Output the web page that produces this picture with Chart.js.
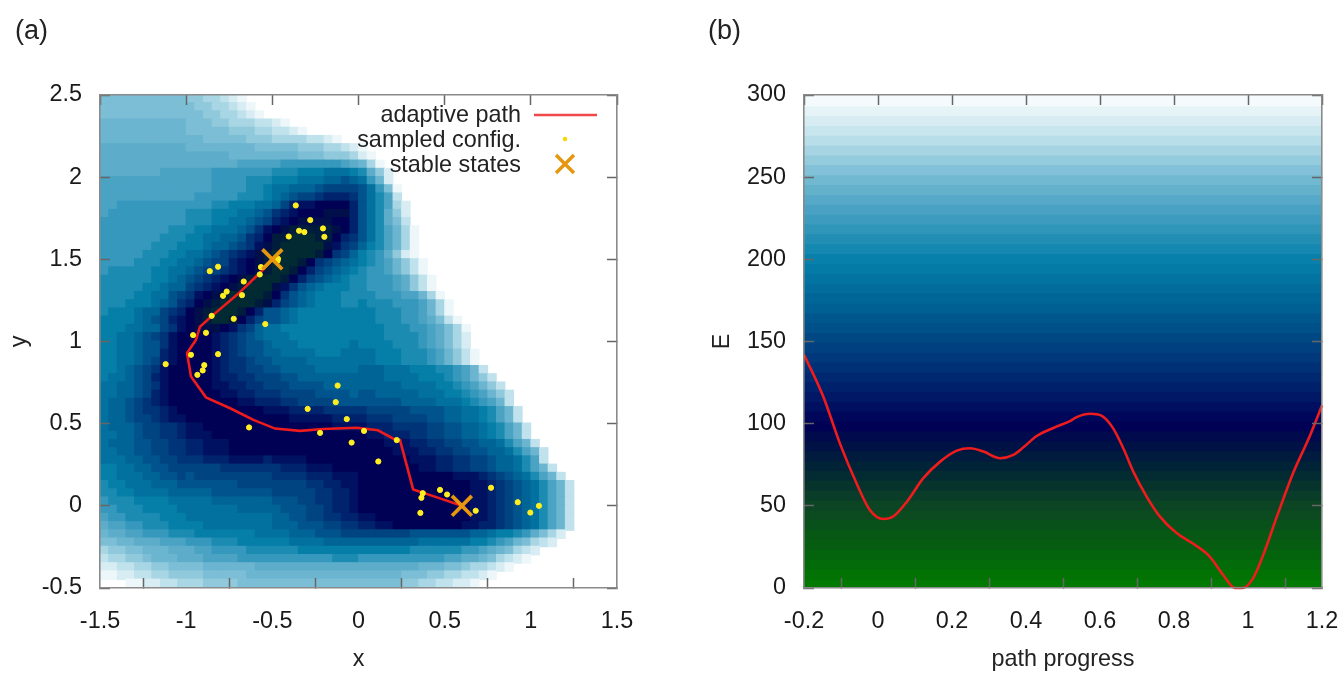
<!DOCTYPE html>
<html><head><meta charset="utf-8">
<script src="https://cdn.jsdelivr.net/npm/chart.js@4/dist/chart.umd.min.js"></script>
<style>
html,body{margin:0;padding:0;background:#fff;width:1344px;height:675px;overflow:hidden}
canvas{position:absolute;top:0}
.t{position:absolute;font-family:"Liberation Sans",Arial,sans-serif;color:#222;white-space:nowrap;line-height:26px}
</style></head><body>
<canvas id="ca" width="672" height="675" style="left:0"></canvas>
<canvas id="cb" width="672" height="675" style="left:672px"></canvas>
<div class="t" style="left:15px;top:17px;font-size:27px">(a)</div>
<div class="t" style="left:708px;top:17px;font-size:27px">(b)</div>
<div class="t" style="right:823px;top:101px;font-size:23.4px">adaptive path</div>
<div class="t" style="right:823px;top:126px;font-size:23.4px">sampled config.</div>
<div class="t" style="right:823px;top:151px;font-size:23.4px">stable states</div>
<script>
// ---- values ----
// Energy level per cell (0-9, a=10 ... t=29, .=white); top row first, 60 x 60 cells of 0.05
const energyRows = [
"oooooooooo ppqqrst",
"oooooooooo oppqqrst",
"oooooooooo ooppqqrst",
"nnnnnnnnnn oooppqqqrr st",
"nnnnnnnnnn ooooopppqq rrst",
"nnnnnnnnnn nnoooooppp qqqqrrst",
"mmmmmmmmmm nnnnnnnnoo ooopppqqrs t",
"mmmmmmmmmm mmmmmnnnnn nnnooopppq st",
"mmmmmmmmmm mmmmmmllll lkkkkkkklm nqt",
"mmmmmmmlll lllkkkkkkk jjjiiihhhi jmps",
"llllllllll lllkkkkjjj iiihhhggfg hkns",
"llllllllll lllkkkkjji hhgggfeeee fhkot",
"llllllllll lkkkkkjjji hgfeedcccd fhjlr",
"llkkkkkkkk kkkjjiiihh gecbbaaaac fhjlqs",
"lkkkkkkkkk jjjiiihhgf dcbaaa999c fhjmps",
"kkkkkkkkkk jjjiihhgfe cba9999aac fhjmor",
"kkkkkkkkjj jiihhhgfdb a9888889ac fhjlnqt",
"kkkkkkkjjj iihhggfdca 8877788acd fhjlnqt",
"kkkkkkjjji iihggfedb9 8777779bde gijlnqt",
"kkkkkjjjii hhgfedcb98 777778adeg ijkmpst",
"kkkkjjjiih hgfeecba98 7778adefgh ijklnprt",
"kjjjjjiihh gfeedcba98 778acefghi jkklnprt",
"jjjjjjiihg fedcba9877 78acefghij jkkklmprt",
"jjjjjiihgg edcba98777 9bdfghiiij jkkklmprt",
"jjjjiihhfe dba9877778 adfghiiijj jjkkkllnqt",
"jjjiiihgfd ca98777789 cefghiiijj ijjjkkklnqt",
"jiiihggedc a987778acf fghiiiiiii iijjjkklnqt",
"iiiihgfecb a98778acef fghiiiiiii iijjjkklmort",
"iiihhggedb a999abdegh hiiiiiiiii iiijjjkklmoqt",
"iihhgfedba aaabcdefgh hhiiiiiiii iiijjjjklmoqs",
"iihhgffdba aaabcdeffg hhhiiiiiih iiiijjjklmoqs",
"iihhgffcba aaabcdeffg ghhhhiiihh hhiiijjjklnprt",
"iihhgfecba aaabcddeff gggghhhhhh hhiiijjjklnprt",
"iihgfedbaa aaabcddeef fgggghhhhh ggghhhiiijjklnr",
"ihhgfecbaa aaabccddee effggggggg ggghhhhiiijklnpr",
"hhggfedbaa aaabbccdde eeffffgggg ggggghhhhiijklnpr",
"hhggfecbaa aaaabbccdd deeeeffffg ffggggghhhiijklnpr",
"hggfedcbaa aaaaaabbcc cddeeeefff fffffgggghhhijklnr",
"hggfeddcba aaaaaaaaab bbccccdddd deeeeeffffgghhijlnr",
"hggfeedcbb aaaaaaaaaa aabbbbbccc cdddeeeeffgghhijlnr",
"hgggfeeddc bbaaaaaaaa aaaaaaabbb bcccddddeeffgghijlnr",
"hhggfeeddc bbbaaaaaaa aaaaaaaaaa abbcccddeeffgghijlnr",
"hgggffeedd ccbbbaaaaa aaaaaaaaaa aaabbbccddeeffgghjlnr",
"hhggffeedd ccbbbaaaaa aaaaaaaaaa aaaabbbccddeeffgghjlnr",
"hhhggffeed ddcccbbbbc bbbbaaaaaa aaaaaabbbccddeefgghjlr",
"iihhggffee eeeedddddd dcccbbbaaa aaaaaaabbccddeefgghjlnr",
"iihhhggffe feeeeeeeee ddddcccbbb aaaaaaaaaaabbbcdefghjlnr",
"jiihhhgggf ffffffeeee eeeeddccbb aaaaaaaaaaaaabbcdefghjlnr",
"jjiihhhhgg gggfffffff eeeeeddccb aaaaaaaaaaaaabbcdefghjlnr",
"kjjjiiiihh hhhggggggg fffeeddccb aaaaaaaaaaaaabbcdefghjlnr",
"kkjjjiiiih hhhhhhgggg gfffeedccb aaaaaaaaaaaaabbcdefghjlnr",
"lkkjjjjiii hhhhhhhhhh ggffeeddcc bbaaaaaaaaaaabbcdefghjlnr",
"mllkkjjjii iihhhhhhhh gggfffeedd ccbbaaaaaaaabbccdefghjlnr",
"nmmllkkkjj jiiiiiiihh hhgggfffee eeeeeefffffffgghiijkmoqs",
"oonnmmmlll kkkjjjiiii iihhhhgggg ggggggghhhhhhiijklnoqrs",
"qppoonnnmm mllkkkkjjj jjjiiiiiii iiiiiijjjjjjkklmnoqrs",
"rqqpponnnm mmllllkkkk kkkkkkkjjj kkkkkkkkkkllmmnoqrst",
"ssrrqqppoo oonnnnnnmm mmmmmmmmmm mmmmmmmnnnoopqqrst",
"ttssrrqqpp ppooooonnn nnnnnnnnnn nnnnnoooppqqrrst",
"...ttssrrq qqppppoooo oooooooooo oooooppqqrrsst"
];
// E value that each level letter stands for (index = level)
const levelE = [0,10,20,30,40,50,60,70,80,90,100,112,125,138,150,162,175,187,198,210,222,232,240,247,253,260,268,276,285,294];
const pathX = [0.6,0.46,0.317,0.241,0.2,0.113,-0.01,-0.205,-0.339,-0.484,-0.61,-0.745,-0.885,-0.972,-0.995,-0.943,-0.92,-0.85,-0.705,-0.571,-0.5];
const pathY = [0,0.05,0.10,0.40,0.41,0.46,0.475,0.468,0.456,0.47,0.523,0.594,0.66,0.787,0.93,1.01,1.09,1.156,1.284,1.418,1.5];
const sampleX = [-0.364,-0.28,-0.206,-0.198,-0.345,-0.314,-0.405,-0.467,-0.47,-0.566,-0.573,-0.666,-0.815,-0.863,-0.765,-0.786,-0.676,-0.852,-0.724,-0.541,-0.885,-0.96,-0.972,-0.815,-1.119,-0.895,-0.904,-0.935,-0.121,-0.132,-0.295,-0.068,-0.635,-0.223,-0.04,0.032,0.222,0.115,0.769,0.473,0.514,0.373,0.365,0.359,0.68,0.924,0.997,1.047];
const sampleY = [1.828,1.739,1.688,1.637,1.674,1.666,1.639,1.503,1.49,1.453,1.408,1.365,1.455,1.428,1.304,1.278,1.282,1.156,1.138,1.106,1.053,1.039,0.919,0.923,0.862,0.856,0.824,0.797,0.732,0.631,0.59,0.528,0.477,0.444,0.385,0.456,0.40,0.27,0.11,0.097,0.069,0.077,0.049,-0.043,-0.03,0.022,-0.041,0];
const stableX = [-0.5,0.6];
const stableY = [1.5,0];
const progress = [-0.2,-0.148,-0.103,-0.058,-0.022,0.014,0.041,0.078,0.122,0.168,0.213,0.249,0.285,0.33,0.366,0.393,0.429,0.474,0.519,0.537,0.573,0.605,0.636,0.663,0.69,0.726,0.762,0.807,0.861,0.897,0.933,0.965,0.986,1.014,1.041,1.078,1.122,1.168,1.2];
const energy = [142,116.5,88,63.7,47.5,42,43.5,52.5,66.7,76.9,83.6,85,83,79,81,85.6,92.5,97.4,101.6,104,106,104.7,97,85,70.8,55.6,43.4,33.4,25.6,19,7.9,0,0,6,20,43.4,70,93,111];
const bandEdges = [0,6,12,18,24,30,36,42,48,54,60,66,72,78,84,90,96,102,108,114,120,126,132,138,144,150,156,162,168,174,180,186,192,198,204,210,216,222,228,234,240,246,252,258,264,270,276,282,288,294,300];
const paletteE = [0,25,50,75,100,125,150,175,200,225,250,275,300];
const paletteRGB = [[0,125,0],[5,95,15],[12,70,35],[0,35,55],[0,0,85],[0,35,110],[0,68,130],[0,100,150],[5,128,170],[60,155,190],[115,185,210],[190,225,235],[252,254,254]];
const xTicksA = [-1.5,-1,-0.5,0,0.5,1,1.5];
const yTicksA = [-0.5,0,0.5,1,1.5,2,2.5];
const xTicksB = [-0.2,0,0.2,0.4,0.6,0.8,1,1.2];
const yTicksB = [0,50,100,150,200,250,300];

// ---- helpers ----
function colorFor(e){
  let i=0; while(i<paletteE.length-2 && e>paletteE[i+1]) i++;
  const f=(e-paletteE[i])/(paletteE[i+1]-paletteE[i]);
  const a=paletteRGB[i],b=paletteRGB[i+1];
  return 'rgb('+a.map((v,k)=>Math.round(v+(b[k]-v)*f)).join(',')+')';
}
const cells=[],cellColors=[];
energyRows.forEach((r,j)=>{
  const s=r.replace(/ /g,'').padEnd(60,'.');
  for(let i=0;i<60;i++){
    if(s[i]==='.')continue;
    const x0=-1.5+i*0.05, y1=2.5-j*0.05;
    cells.push({x:x0+0.025,y:[y1-0.05,Math.min(2.5,y1+0.005)]});
    cellColors.push(colorFor(levelE[parseInt(s[i],36)]));
  }
});
const bands=[],bandColors=[];
for(let k=0;k<bandEdges.length-1;k++){
  bands.push({x:0.5,y:[Math.max(0,bandEdges[k]-0.6),bandEdges[k+1]]});
  bandColors.push(colorFor((bandEdges[k]+bandEdges[k+1])/2));
}
const zip=(a,b)=>a.map((v,i)=>({x:v,y:b[i]}));
const FONT={family:'"Liberation Sans",Arial,sans-serif',size:23.4};
const fmt=v=>String(Math.round(v*10)/10);
function ticksFrom(list){return s=>{s.ticks=list.map(v=>({value:v}));};}
const noPad=s=>{s.paddingLeft=0;s.paddingRight=0;s.paddingTop=0;s.paddingBottom=0;};
function axes(xmin,xmax,ymin,ymax,xt,yt,xTitle,yTitle,leftW,yPad){
  const g={drawOnChartArea:false,drawTicks:true,tickLength:-10,tickWidth:1.5,tickColor:'#666',z:1};
  const b={display:true,color:'#8a8a8a',width:1.6,z:2};
  const common={type:'linear',offset:false,grid:g,border:b};
  return {
    x:{...common,min:xmin,max:xmax,position:'bottom',afterBuildTicks:ticksFrom(xt),afterFit:s=>{s.height=87;noPad(s);},
       ticks:{font:FONT,color:'#1a1a1a',padding:30,maxRotation:0,autoSkip:false,callback:fmt},
       title:{display:true,text:xTitle,font:FONT,color:'#222',padding:{top:0,bottom:1}}},
    y:{...common,min:ymin,max:ymax,position:'left',afterBuildTicks:ticksFrom(yt),afterFit:s=>{s.width=leftW;noPad(s);},
       ticks:{font:FONT,color:'#1a1a1a',padding:28,autoSkip:false,callback:fmt},
       title:{display:true,text:yTitle,font:FONT,color:'#222',padding:{top:yPad,bottom:0}}},
    x2:{...common,min:xmin,max:xmax,position:'top',afterBuildTicks:ticksFrom(xt),afterFit:s=>{s.height=0;noPad(s);},ticks:{display:false}},
    y2:{...common,min:ymin,max:ymax,position:'right',afterBuildTicks:ticksFrom(yt),afterFit:s=>{s.width=0;noPad(s);},ticks:{display:false}}
  };
}
const legendMarks={id:'legendMarks',afterDraw(c){
  const x=c.ctx; x.save();
  x.strokeStyle='#f04848';x.lineWidth=2.5;x.beginPath();x.moveTo(534,115);x.lineTo(597,115);x.stroke();
  x.fillStyle='#f5d800';x.beginPath();x.arc(565,139,2.2,0,7);x.fill();
  x.strokeStyle='#e6960f';x.lineWidth=3.4;x.beginPath();
  x.moveTo(556,155);x.lineTo(574,173);x.moveTo(574,155);x.lineTo(556,173);x.stroke();
  x.restore();
}};
new Chart(document.getElementById('ca'),{
  type:'scatter',plugins:[legendMarks],
  data:{datasets:[
    {type:'bar',label:'energy',data:cells,backgroundColor:cellColors,borderWidth:0,barThickness:8.8,order:4},
    {type:'line',label:'adaptive path',data:zip(pathX,pathY),borderColor:'#ee1c1c',borderWidth:2.6,pointRadius:0,tension:0,fill:false,order:3},
    {type:'scatter',label:'sampled config.',data:zip(sampleX,sampleY),backgroundColor:'#ffee22',borderColor:'#ffee22',pointRadius:2.6,order:2},
    {type:'scatter',label:'stable states',data:zip(stableX,stableY),pointStyle:'crossRot',pointRadius:14,pointBorderColor:'#e6960f',borderColor:'#e6960f',pointBorderWidth:3.8,order:1}
  ]},
  options:{responsive:false,animation:false,devicePixelRatio:1,
    layout:{autoPadding:false,padding:{top:95,right:55,left:0,bottom:0}},
    plugins:{legend:{display:false},tooltip:{enabled:false}},
    scales:axes(-1.5,1.5,-0.5,2.5,xTicksA,yTicksA,'x','y',100,6)}
});
new Chart(document.getElementById('cb'),{
  type:'scatter',
  data:{datasets:[
    {type:'bar',label:'energy bands',data:bands,backgroundColor:bandColors,borderWidth:0,barThickness:520,order:2},
    {type:'line',label:'E',data:zip(progress,energy),borderColor:'#ee1c1c',borderWidth:2.6,pointRadius:0,cubicInterpolationMode:'monotone',fill:false,clip:false,order:1}
  ]},
  options:{responsive:false,animation:false,devicePixelRatio:1,
    layout:{autoPadding:false,padding:{top:95,right:22,left:0,bottom:0}},
    plugins:{legend:{display:false},tooltip:{enabled:false}},
    scales:axes(-0.2,1.2,0,300,xTicksB,yTicksB,'path progress','E',132,37)}
});
</script>
</body></html>
